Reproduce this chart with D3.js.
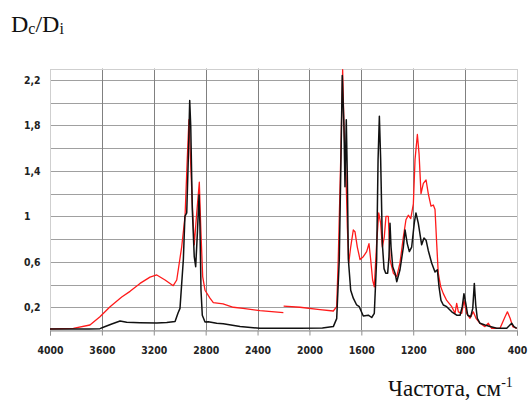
<!DOCTYPE html>
<html>
<head>
<meta charset="utf-8">
<script src="https://cdn.jsdelivr.net/npm/d3@7"></script>
<style>
  body { margin: 0; background: #fff; }
  .tick text { font-family: "DejaVu Sans Condensed", "DejaVu Sans", sans-serif; font-weight: bold; font-size: 10.4px; fill: #222; }
</style>
</head>
<body>
<svg id="chart"></svg>
<script>
// wavenumber (cm-1), Dc/Di
let blackSpec = [
  [4000,0.009],[3700,0.009],[3615,0.012],[3589,0.024],[3524,0.053],[3460,0.079],[3409,0.068],[3306,0.064],
  [3177,0.062],[3100,0.065],[3036,0.075],[3013,0.15],[2998,0.19],[2972,0.62],[2960,1.0],[2946,1.03],
  [2934,1.5],[2923,2.02],[2915,1.79],[2903,1.06],[2888,0.645],[2877,0.557],[2864,0.85],[2851,1.19],
  [2844,0.91],[2836,0.35],[2826,0.13],[2805,0.07],[2780,0.073],[2715,0.06],[2664,0.055],[2535,0.03],
  [2381,0.015],[2073,0.015],[1900,0.018],[1816,0.03],[1790,0.1],[1770,0.62],[1757,1.5],[1747,2.24],
  [1734,1.79],[1726,1.26],[1716,1.85],[1708,1.35],[1700,0.62],[1682,0.35],[1662,0.28],[1636,0.22],
  [1616,0.205],[1585,0.123],[1546,0.13],[1520,0.11],[1500,0.147],[1482,0.62],[1471,1.5],[1461,1.88],
  [1451,1.5],[1438,0.76],[1425,0.54],[1412,0.5],[1397,0.5],[1387,0.645],[1379,0.94],[1371,0.73],
  [1358,0.557],[1340,0.5],[1327,0.425],[1302,0.53],[1276,0.73],[1263,0.88],[1246,0.76],[1230,0.69],
  [1212,0.73],[1192,0.94],[1179,1.03],[1161,0.94],[1135,0.75],[1117,0.81],[1101,0.79],[1084,0.7],
  [1058,0.59],[1032,0.51],[1014,0.53],[1001,0.38],[986,0.26],[968,0.22],[942,0.205],[903,0.16],
  [865,0.13],[839,0.13],[822,0.205],[809,0.32],[795,0.235],[780,0.13],[757,0.117],[741,0.19],
  [729,0.41],[718,0.22],[706,0.103],[685,0.059],[647,0.044],[608,0.03],[556,0.015],[479,0.015],
  [441,0.059],[423,0.03],[402,0.015]
];

// null marks the break in the red trace near 2200
let redSpec = [
  [4000,0.009],[3820,0.015],[3692,0.044],[3615,0.117],[3537,0.205],[3447,0.29],[3383,0.34],[3306,0.41],
  [3229,0.465],[3177,0.484],[3113,0.44],[3050,0.39],[3023,0.44],[2985,0.73],[2959,1.0],[2942,1.5],
  [2929,1.85],[2903,1.11],[2888,0.75],[2869,1.03],[2849,1.3],[2838,0.91],[2823,0.47],[2805,0.35],
  [2767,0.28],[2741,0.24],[2666,0.23],[2587,0.2],[2512,0.19],[2381,0.17],[2201,0.152],
  [2200,null],
  [2199,0.21],[2073,0.2],[1919,0.18],[1816,0.167],[1790,0.205],[1778,0.62],[1759,1.5],[1744,2.29],
  [1734,1.79],[1718,1.35],[1708,0.91],[1697,0.59],[1682,0.73],[1662,0.88],[1649,0.865],[1631,0.73],
  [1610,0.62],[1585,0.645],[1559,0.69],[1541,0.76],[1528,0.62],[1513,0.44],[1500,0.38],[1482,0.76],
  [1466,1.03],[1451,0.94],[1438,0.73],[1423,0.82],[1410,1.0],[1392,1.0],[1379,0.62],[1353,0.5],
  [1327,0.47],[1302,0.59],[1276,0.82],[1256,0.97],[1238,1.01],[1219,0.98],[1199,1.11],[1186,1.5],
  [1168,1.72],[1155,1.55],[1140,1.2],[1122,1.29],[1101,1.32],[1084,1.2],[1063,1.09],[1045,1.1],
  [1032,1.06],[1019,0.76],[1007,0.5],[988,0.38],[968,0.32],[942,0.26],[903,0.205],[878,0.147],
  [865,0.235],[852,0.16],[826,0.147],[809,0.26],[788,0.147],[762,0.103],[737,0.16],[716,0.103],
  [685,0.059],[647,0.03],[621,0.059],[595,0.015],[531,0.015],[492,0.117],[474,0.16],[453,0.103],
  [433,0.03],[402,0.015]
];

let xTicks = [4000, 3600, 3200, 2800, 2400, 2000, 1600, 1200, 800, 400];
let yTicks = [0.2, 0.6, 1, 1.4, 1.8, 2.2];
let yGrid = [0.2, 0.4, 0.6, 0.8, 1, 1.2, 1.4, 1.6, 1.8, 2, 2.2];

let w = 532;
let h = 407;
let plotL = 50, plotR = 517, plotT = 68.6, plotB = 330;

let svg = d3.select("#chart").attr("width", w).attr("height", h);

let scalex = d3.scaleLinear().domain([4000, 400]).range([plotL, plotR]);
let scaley = d3.scaleLinear().domain([0, 2.3]).range([plotB, plotT]);

// grid
svg.append("g").selectAll("line")
  .data(yGrid)
  .enter()
  .append("line")
  .attr("x1", plotL).attr("x2", plotR)
  .attr("y1", d => Math.round(scaley(d)) + 0.5)
  .attr("y2", d => Math.round(scaley(d)) + 0.5)
  .attr("stroke", "#a0a0a0");

svg.append("g").selectAll("line")
  .data(xTicks.slice(1, -1))
  .enter()
  .append("line")
  .attr("x1", d => Math.round(scalex(d)) + 0.5)
  .attr("x2", d => Math.round(scalex(d)) + 0.5)
  .attr("y1", plotT).attr("y2", plotB)
  .attr("stroke", "#808080");

svg.append("rect")
  .attr("x", plotL + 0.5).attr("y", Math.round(plotT) + 0.5)
  .attr("width", plotR - plotL).attr("height", plotB - Math.round(plotT))
  .attr("fill", "none")
  .attr("stroke", "#cfcfcf");

// axes
let xAxis = svg.append("g")
  .attr("transform", "translate(0," + (plotB + 0.5) + ")")
  .call(d3.axisBottom(scalex).tickValues(xTicks).tickSize(5).tickFormat(d3.format("d")));
xAxis.select(".domain").attr("stroke", "#909090");
xAxis.selectAll(".tick line").attr("stroke", "#909090");
xAxis.selectAll(".tick text").attr("y", 23).attr("dy", 0);

let yAxis = svg.append("g")
  .call(d3.axisLeft(scaley).tickValues(yTicks).tickSize(0).tickFormat(d => String(d).replace(".", ",")));
yAxis.select(".domain").remove();
yAxis.selectAll(".tick text").attr("x", 24).attr("text-anchor", "start");

// spectra
let line = d3.line()
  .defined(d => d[1] !== null)
  .x(d => scalex(d[0]))
  .y(d => scaley(d[1]));

svg.append("path")
  .datum(redSpec)
  .attr("d", line)
  .attr("fill", "none")
  .attr("stroke", "#ff1a1a")
  .attr("stroke-width", 1.3)
  .attr("stroke-linejoin", "round");

svg.append("path")
  .datum(blackSpec)
  .attr("d", line)
  .attr("fill", "none")
  .attr("stroke", "#111")
  .attr("stroke-width", 1.5)
  .attr("stroke-linejoin", "round");

// titles
let yTitle = svg.append("text")
  .attr("x", 11).attr("y", 32)
  .attr("font-family", "Liberation Serif, Times New Roman, serif")
  .attr("font-size", "24px")
  .attr("fill", "#111");
yTitle.append("tspan").text("D");
yTitle.append("tspan").attr("font-size", "16px").attr("dy", 2).text("c");
yTitle.append("tspan").attr("dy", -2).text("/D");
yTitle.append("tspan").attr("font-size", "16px").attr("dy", 2).text("i");

let xTitle = svg.append("text")
  .attr("x", 388).attr("y", 396)
  .attr("font-family", "Liberation Serif, Times New Roman, serif")
  .attr("font-size", "23px")
  .attr("fill", "#111");
xTitle.append("tspan").text("Частота, см");
xTitle.append("tspan").attr("font-size", "14px").attr("dy", -9).text("-1");
</script>
</body>
</html>
